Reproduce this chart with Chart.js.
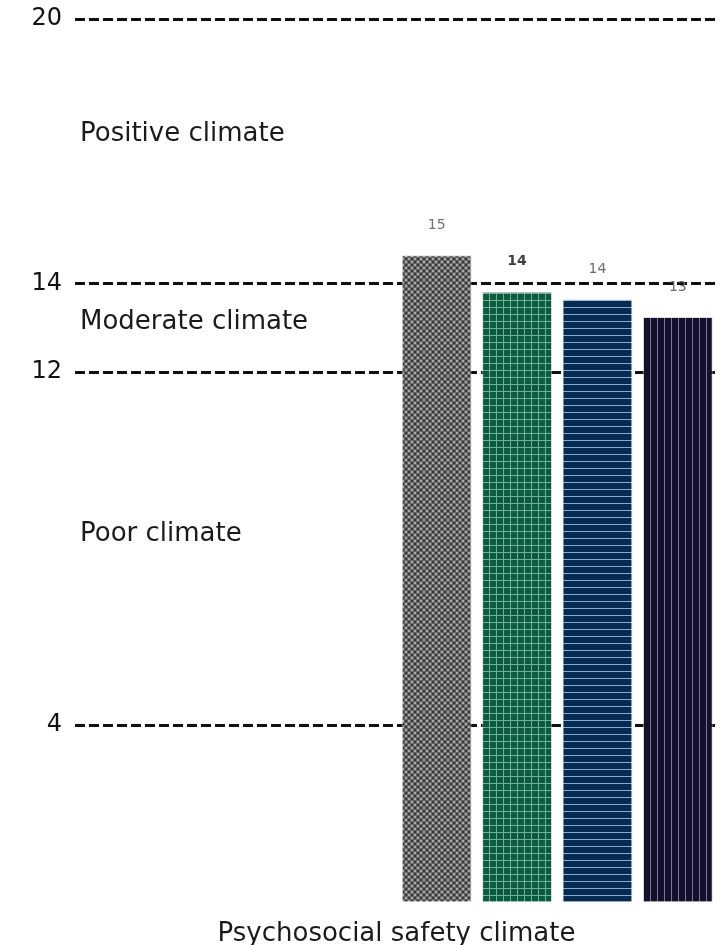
<!DOCTYPE html>
<html>
<head>
<meta charset="utf-8">
<script src="https://cdn.jsdelivr.net/npm/chart.js@4"></script>
<style>
    html, body { margin: 0; padding: 0; background: #ffffff; }
    #wrap { width: 726px; height: 945px; }
</style>
</head>
<body>
<div id="wrap"><canvas id="climateChart" width="726" height="945"></canvas></div>
<script>
// slots on the x axis; the first four are empty, bars sit in the right half
var categories = ['', '', '', '', 'Group 1', 'Group 2', 'Group 3', 'Group 4'];
var scores = [null, null, null, null, 14.65, 13.82, 13.65, 13.25];
var scoreLabels = ['', '', '', '', '15', '14', '14', '13'];
var boldLabel = [false, false, false, false, false, true, false, false];

var tickValues = [4, 12, 14, 20];
var zoneNames = ['Positive climate', 'Moderate climate', 'Poor climate'];
var zoneValues = [17.38, 13.13, 8.33];

var axisTitle = 'Psychosocial safety climate';
var fontFamily = '"DejaVu Sans", "Noto Sans", sans-serif';

function makePattern(size, draw) {
    var c = document.createElement('canvas');
    c.width = size;
    c.height = size;
    var p = c.getContext('2d');
    draw(p, size);
    return p.createPattern(c, 'repeat');
}

var greyDots = makePattern(6, function (p) {
    p.fillStyle = '#666666';
    p.fillRect(0, 0, 6, 6);
    p.fillStyle = '#aaaaaa';
    p.fillRect(0, 0, 2, 2);
    p.fillRect(3, 3, 2, 2);
    p.fillStyle = '#383838';
    p.fillRect(3, 0, 2, 2);
    p.fillRect(0, 3, 2, 2);
});
var greenGrid = makePattern(7, function (p) {
    p.fillStyle = '#0b5b41';
    p.fillRect(0, 0, 7, 7);
    p.fillStyle = '#72b096';
    p.fillRect(6, 0, 1, 7);
    p.fillRect(0, 6, 7, 1);
});
var navyLines = makePattern(7, function (p) {
    p.fillStyle = '#062b50';
    p.fillRect(0, 0, 7, 7);
    p.fillStyle = '#86a9cf';
    p.fillRect(0, 6, 7, 1);
});
var purpleLines = makePattern(7, function (p) {
    p.fillStyle = '#140f2b';
    p.fillRect(0, 0, 7, 7);
    p.fillStyle = '#7b7595';
    p.fillRect(6, 0, 1, 7);
});
var barFills = [null, null, null, null, greyDots, greenGrid, navyLines, purpleLines];

var zoneLabelPlugin = {
    id: 'zoneLabels',
    beforeDatasetsDraw: function (chart) {
        var ctx = chart.ctx;
        var y = chart.scales.y;
        ctx.save();
        ctx.font = '26px ' + fontFamily;
        ctx.fillStyle = '#1a1a1a';
        ctx.textAlign = 'left';
        ctx.textBaseline = 'middle';
        zoneNames.forEach(function (name, i) {
            ctx.fillText(name, chart.chartArea.left + 5, y.getPixelForValue(zoneValues[i]));
        });
        ctx.restore();
    }
};

var valueLabelPlugin = {
    id: 'valueLabels',
    afterDatasetsDraw: function (chart) {
        var ctx = chart.ctx;
        var meta = chart.getDatasetMeta(0);
        ctx.save();
        ctx.textAlign = 'center';
        ctx.textBaseline = 'middle';
        meta.data.forEach(function (bar, i) {
            if (scores[i] === null) return;
            ctx.font = (boldLabel[i] ? 'bold ' : '') + '14px ' + fontFamily;
            ctx.fillStyle = boldLabel[i] ? '#3d3d3d' : (i === 4 ? '#7a6f66' : '#6b6b6b');
            ctx.fillText(scoreLabels[i], bar.x, bar.y - 30);
        });
        ctx.restore();
    }
};

new Chart(document.getElementById('climateChart').getContext('2d'), {
    type: 'bar',
    data: {
        labels: categories,
        datasets: [{
            data: scores,
            backgroundColor: barFills,
            borderColor: 'rgba(200, 200, 200, 0.6)',
            borderWidth: 1,
            barPercentage: 0.87,
            categoryPercentage: 1
        }]
    },
    options: {
        responsive: false,
        animation: false,
        layout: { padding: { top: 0, right: 8, bottom: 0, left: 0 } },
        plugins: {
            legend: { display: false },
            tooltip: { enabled: false }
        },
        scales: {
            x: {
                grid: { display: false },
                border: { display: false },
                ticks: { display: false },
                title: {
                    display: true,
                    text: axisTitle,
                    color: '#1a1a1a',
                    font: { family: fontFamily, size: 26 },
                    padding: { top: 9, bottom: -5 }
                }
            },
            y: {
                min: 0,
                max: 20,
                afterBuildTicks: function (scale) {
                    scale.ticks = tickValues.map(function (v) { return { value: v }; });
                },
                afterFit: function (scale) {
                    scale.width = 75;
                    scale.paddingTop = 19;
                    scale.paddingBottom = 0;
                },
                border: { display: false, dash: [10, 4] },
                grid: {
                    color: '#111111',
                    lineWidth: 3,
                    drawTicks: false
                },
                ticks: {
                    color: '#111111',
                    padding: 13,
                    font: { family: fontFamily, size: 24 }
                }
            }
        }
    },
    plugins: [zoneLabelPlugin, valueLabelPlugin]
});
</script>
</body>
</html>
